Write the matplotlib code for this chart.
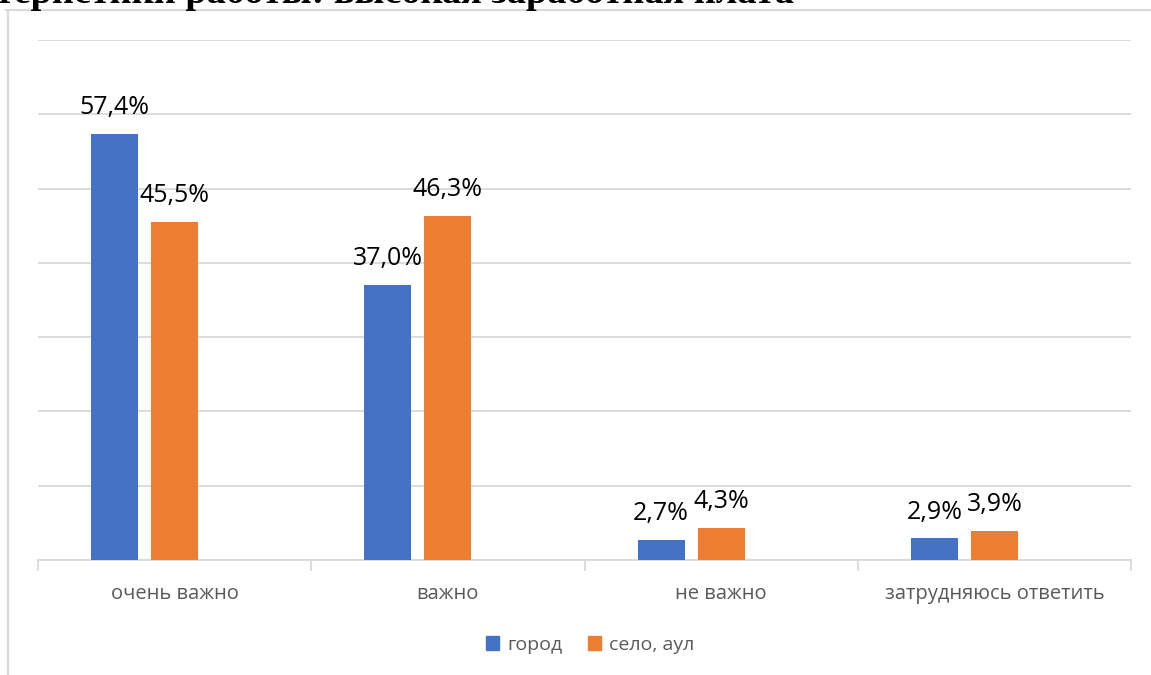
import matplotlib
matplotlib.use("Agg")
import matplotlib.pyplot as plt
from matplotlib.patches import Rectangle
from matplotlib.lines import Line2D
import numpy as np

categories = ["очень важно", "важно", "не важно", "затрудняюсь ответить"]
gorod = [57.4, 37.0, 2.7, 2.9]
selo = [45.5, 46.3, 4.3, 3.9]
series_names = ["город", "село, аул"]
title = "теристики работы: высокая заработная плата"

BLUE = "#4472C4"
ORANGE = "#ED7D31"
GRID = "#D9D9D9"
TXT = "#595959"

W, H = 1151, 675
fig = plt.figure(figsize=(W / 100, H / 100), dpi=100)
fig.patch.set_facecolor("white")

# outer chart frame (top and left visible)
fig.add_artist(Line2D([6 / W, 1.0], [1 - 10 / H, 1 - 10 / H], color=GRID, lw=1.5, transform=fig.transFigure))
fig.add_artist(Line2D([8 / W, 8 / W], [0, 1 - 10 / H], color=GRID, lw=1.5, transform=fig.transFigure))

# clipped title (cut off by the top edge, as in the reference)
fig.text(-0.004, 1 - 3 / H, title, family="Liberation Serif", weight="bold", fontsize=27.5,
         va="baseline", ha="left", color="black", zorder=5)

ax = fig.add_axes([38 / W, 1 - 560 / H, (1131 - 38) / W, (560 - 40) / H])
x = np.arange(len(categories))
bw = 0.172
step = 0.2195
b1 = ax.bar(x - step, gorod, bw, color=BLUE, zorder=3)
b2 = ax.bar(x, selo, bw, color=ORANGE, zorder=3)

for bars, vals in ((b1, gorod), (b2, selo)):
    for r, v in zip(bars, vals):
        ax.annotate(f"{v:.1f}%".replace(".", ","), (r.get_x() + r.get_width() / 2, v),
                    xytext=(0, 10), textcoords="offset points", ha="center", va="bottom",
                    fontsize=18, color="black", family="Open Sans", zorder=4)

ax.set_xlim(-0.5, len(categories) - 0.5)
ax.set_ylim(0, 70)
ax.set_yticks(np.arange(0, 71, 10))
ax.yaxis.grid(True, color=GRID, lw=1.3, zorder=0)
ax.tick_params(axis="y", length=0, labelleft=False)
for s in ("top", "right", "left"):
    ax.spines[s].set_visible(False)
ax.spines["bottom"].set_color(GRID)
ax.spines["bottom"].set_linewidth(1.3)

ax.set_xticks(x)
ax.set_xticklabels(categories, fontsize=14.5, color=TXT, family="Open Sans")
ax.tick_params(axis="x", length=0, pad=17)
for b in np.arange(-0.5, len(categories), 1.0):
    ax.plot([b, b], [0, -1.4], color=GRID, lw=1.3, clip_on=False, zorder=2)

handles = [Rectangle((0, 0), 1, 1, color=BLUE), Rectangle((0, 0), 1, 1, color=ORANGE)]
leg = fig.legend(handles, series_names, loc="center", bbox_to_anchor=(590 / W, 1 - 645 / H),
                 ncol=2, frameon=False, handlelength=0.7, handleheight=0.7,
                 handletextpad=0.4, columnspacing=1.3, prop={"family": "Open Sans", "size": 14})
for t in leg.get_texts():
    t.set_color(TXT)

fig.savefig("out.png", dpi=100, facecolor="white")
